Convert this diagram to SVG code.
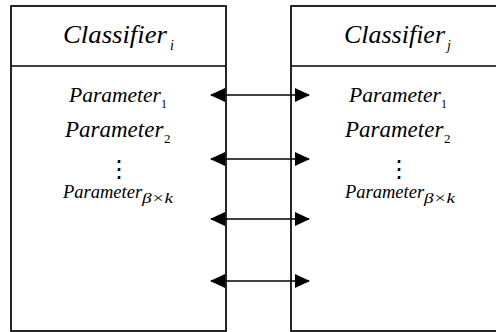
<svg xmlns="http://www.w3.org/2000/svg" width="496" height="332" viewBox="0 0 496 332">
<defs>
<style>
.box{fill:#fff;stroke:#000;stroke-width:1.7}
.t{font-family:"Liberation Serif","Times New Roman",serif;font-style:italic;fill:#000}
.n{font-family:"Liberation Serif","Times New Roman",serif;font-style:normal;fill:#000}
.d{font-family:"Liberation Serif","DejaVu Sans",serif;font-size:24px;fill:#000;text-anchor:middle}
.conn{stroke:#000;stroke-width:1.6;fill:none}
</style>
<marker id="ah" viewBox="0 0 15 14" refX="14" refY="7" markerWidth="15" markerHeight="14" markerUnits="userSpaceOnUse" orient="auto-start-reverse">
<path d="M0,0 L15,7 L0,14 Z" fill="#000"/>
</marker>
</defs>
<rect width="496" height="332" fill="#fff"/>
<g id="classifier-i">
<rect class="box" x="11" y="6" width="215" height="325"/>
<line class="box" x1="11" y1="66" x2="226" y2="66"/>
<text class="t" x="63" y="43" font-size="26" textLength="104" lengthAdjust="spacingAndGlyphs">Classifier</text>
<text class="t" x="170" y="50" font-size="14">i</text>
<text class="t" x="69" y="102" font-size="21.5">Parameter</text>
<text class="n" x="161" y="108" font-size="12">1</text>
<text class="t" x="65" y="137" font-size="23">Parameter</text>
<text class="n" x="164" y="143" font-size="13">2</text>
<text class="d" x="119" y="177">⋮</text>
<text class="t" x="63" y="198" font-size="18.5">Parameter</text>
<text class="t" x="142" y="203" font-size="15" textLength="31" lengthAdjust="spacingAndGlyphs">β×k</text>
</g>
<g id="classifier-j">
<rect class="box" x="291" y="6" width="215" height="325"/>
<line class="box" x1="291" y1="66" x2="506" y2="66"/>
<text class="t" x="344" y="43" font-size="26" textLength="101" lengthAdjust="spacingAndGlyphs">Classifier</text>
<text class="t" x="447" y="50" font-size="14">j</text>
<text class="t" x="349" y="102" font-size="21.5">Parameter</text>
<text class="n" x="441" y="108" font-size="12">1</text>
<text class="t" x="345" y="137" font-size="23">Parameter</text>
<text class="n" x="444" y="143" font-size="13">2</text>
<text class="d" x="399" y="177">⋮</text>
<text class="t" x="345" y="198" font-size="18.5">Parameter</text>
<text class="t" x="424" y="203" font-size="15" textLength="31" lengthAdjust="spacingAndGlyphs">β×k</text>
</g>
<g id="connectors">
<line class="conn" x1="211" y1="95" x2="309" y2="95" marker-start="url(#ah)" marker-end="url(#ah)"/>
<line class="conn" x1="211" y1="159" x2="309" y2="159" marker-start="url(#ah)" marker-end="url(#ah)"/>
<line class="conn" x1="211" y1="219" x2="309" y2="219" marker-start="url(#ah)" marker-end="url(#ah)"/>
<line class="conn" x1="211" y1="281" x2="309" y2="281" marker-start="url(#ah)" marker-end="url(#ah)"/>
</g>
</svg>
